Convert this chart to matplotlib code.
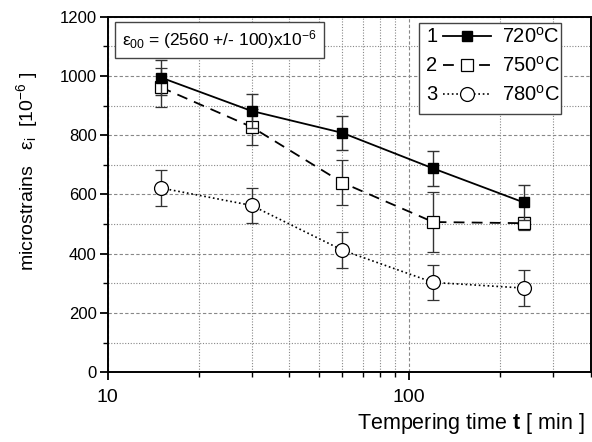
import numpy as np
import matplotlib.pyplot as plt
from matplotlib.patches import Rectangle
from matplotlib.ticker import FixedLocator, NullFormatter, LogLocator

plt.rcParams['font.family'] = ['Liberation Sans', 'DejaVu Sans']
plt.rcParams['mathtext.fontset'] = 'custom'
plt.rcParams['mathtext.rm'] = 'Liberation Sans'
plt.rcParams['mathtext.it'] = 'Liberation Sans'
plt.rcParams['mathtext.bf'] = 'Liberation Sans:bold'

# tempering time [min]
t = [15, 30, 60, 120, 240]

# microstrains [1e-6]
s720 = [995, 882, 808, 688, 573]
e720 = [60, 58, 58, 58, 60]
s750 = [962, 828, 640, 507, 503]
e750 = [65, 60, 75, 100, 22]
s780 = [622, 563, 412, 303, 284]
e780 = [60, 58, 60, 60, 60]

labels = ["720$^{\\rm o}$C", "750$^{\\rm o}$C", "780$^{\\rm o}$C"]
numbers = ["1", "2", "3"]

fig = plt.figure(figsize=(5.92, 4.42), dpi=100)
ax = fig.add_axes([0.182, 0.158, 0.816, 0.804])

kw = dict(color='k', ecolor='#333333', elinewidth=1.0, capsize=4, capthick=1.0)
h1 = ax.errorbar(t, s720, yerr=e720, fmt='-s', ms=7, mfc='k', mec='k', lw=1.3, zorder=5, **kw)
h2 = ax.errorbar(t, s750, yerr=e750, fmt='--s', ms=8, mfc='white', mec='k', mew=0.9,
                 lw=1.3, dashes=(6, 4), zorder=4, **kw)
h3 = ax.errorbar(t, s780, yerr=e780, fmt=':o', ms=10, mfc='white', mec='k', mew=0.9,
                 lw=1.2, zorder=3, **kw)

ax.set_xscale('log')
ax.set_xlim(10, 400)
ax.set_ylim(0, 1200)

ax.xaxis.set_major_locator(FixedLocator([10, 100]))
ax.xaxis.set_major_formatter(plt.FuncFormatter(lambda v, p: f"{v:.0f}"))
ax.xaxis.set_minor_locator(LogLocator(base=10, subs=np.arange(2, 10)))
ax.xaxis.set_minor_formatter(NullFormatter())
ax.set_yticks([0, 200, 400, 600, 800, 1000, 1200])
ax.set_yticks([100, 300, 500, 700, 900, 1100], minor=True)

ax.grid(which='major', color='#888888', ls=(0, (3, 2)), lw=0.8)
ax.grid(which='minor', color='#888888', ls=(0, (1, 1.5)), lw=0.8)
ax.set_axisbelow(True)

ax.tick_params(which='major', direction='out', length=6, width=1.3, labelsize=12, pad=2)
ax.tick_params(which='minor', direction='out', length=3.5, width=1.0)
ax.tick_params(axis='x', which='major', pad=6, labelsize=14)
for sp in ax.spines.values():
    sp.set_linewidth(1.4)

ax.set_xlabel("Tempering time $\\mathbf{t}$ [ min ]", fontsize=15.5, ha='right')
ax.xaxis.set_label_coords(0.988, -0.11)
ax.set_ylabel("microstrains   $\\varepsilon_{\\rm i}$  [10$^{-6}$ ]", fontsize=14)
ax.yaxis.set_label_coords(-0.14, 0.565)

ax.text(0.03, 0.935, "$\\varepsilon_{00}$ = (2560 +/- 100)x10$^{-6}$", transform=ax.transAxes,
        fontsize=12.5, va='center', ha='left',
        bbox=dict(boxstyle='square,pad=0.4', fc='white', ec='#444444', lw=1.0))

# legend frame (numbers sit inside, in front of the handles)
ax.add_patch(Rectangle((0.644, 0.727), 0.294, 0.256, transform=ax.transAxes,
                       fc='white', ec='#444444', lw=1.0, zorder=6))
leg = ax.legend([h1[0], h2[0], h3[0]], labels, loc='upper left', bbox_to_anchor=(0.694, 0.972),
                fontsize=14.5, frameon=False, handlelength=2.4, handletextpad=0.55,
                labelspacing=0.45, borderpad=0.0, borderaxespad=0.0)
leg.set_zorder(7)

fig.canvas.draw()
inv = ax.transAxes.inverted()
for num, txt in zip(numbers, leg.get_texts()):
    bb = txt.get_window_extent()
    _, ya = inv.transform((0, (bb.y0 + bb.y1) / 2))
    ax.text(0.671, ya, num, transform=ax.transAxes, fontsize=14.5,
            ha='center', va='center', zorder=8)

fig.savefig("out.png", dpi=100)
